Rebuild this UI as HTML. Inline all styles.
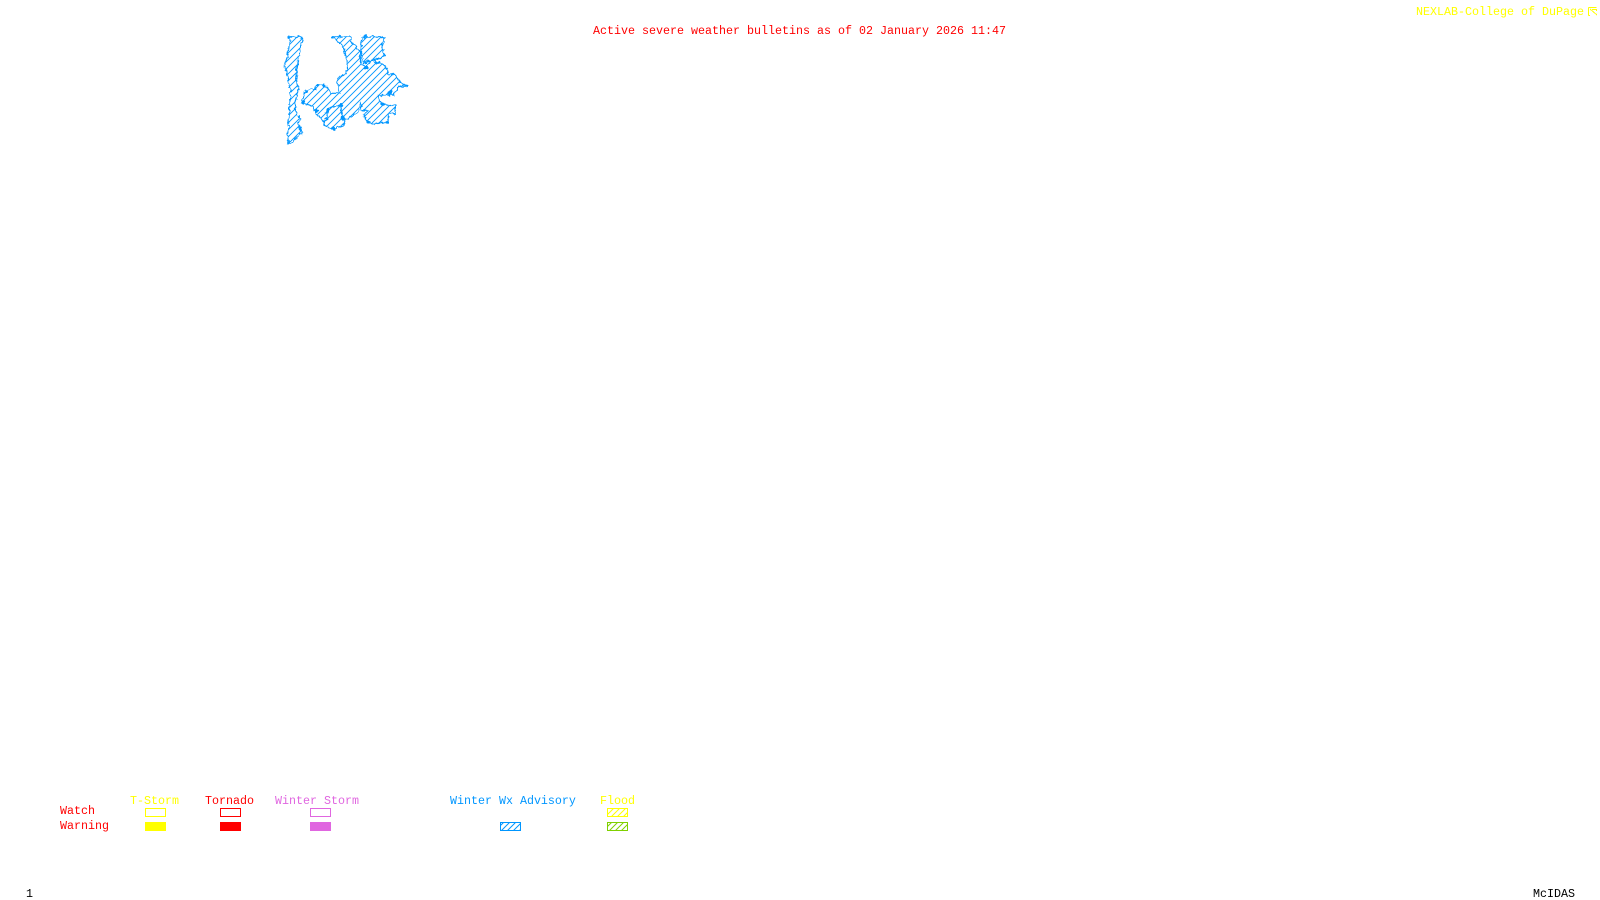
<!DOCTYPE html>
<html><head><meta charset="utf-8"><title>Active severe weather bulletins</title>
<style>
html,body{margin:0;padding:0;background:#fff;width:1600px;height:900px;overflow:hidden}
svg{display:block}
text{font-family:"Liberation Mono",monospace;font-size:11.67px;font-weight:400;white-space:pre}
</style></head><body>
<svg width="1600" height="900" viewBox="0 0 1600 900" xmlns="http://www.w3.org/2000/svg">
<defs>
<pattern id="hb" patternUnits="userSpaceOnUse" width="21" height="21"><path d="M-3 24L24 -3M-3 3L3 -3M18 24L24 18" stroke="#0096ff" stroke-width="2.8" fill="none"/></pattern>
<pattern id="hbs" patternUnits="userSpaceOnUse" width="6" height="6"><path d="M-1 7L7 -1M-1 1L1 -1M5 7L7 5" stroke="#0096ff" stroke-width="1" fill="none"/></pattern>
<pattern id="hy" patternUnits="userSpaceOnUse" width="6" height="6"><path d="M-1 7L7 -1M-1 1L1 -1M5 7L7 5" stroke="#ffff00" stroke-width="1" fill="none"/></pattern>
<pattern id="hg" patternUnits="userSpaceOnUse" width="6" height="6"><path d="M-1 7L7 -1M-1 1L1 -1M5 7L7 5" stroke="#7fd000" stroke-width="1" fill="none"/></pattern>
<filter id="jag" filterUnits="userSpaceOnUse" x="0" y="0" width="470" height="380">
<feTurbulence type="fractalNoise" baseFrequency="0.09" numOctaves="2" seed="4" result="n"/>
<feDisplacementMap in="SourceGraphic" in2="n" scale="14" xChannelSelector="R" yChannelSelector="G"/>
</filter>
<g id="area">
<polygon points="85,35 128,35 122,60 118,85 110,130 110,170 115,195 107,230 106,262 118,275 116,305 128,320 105,345 85,358 85,310 88,260 92,200 85,170 80,140 73,122 80,100 88,60 92,45"/>
<polygon points="215,35 268,35 280,60 300,75 302,115 315,125 335,105 375,120 385,150 400,145 420,170 440,183 415,185 400,210 375,210 355,210 360,232 385,240 408,240 405,265 385,265 385,290 345,297 320,290 310,270 325,258 305,255 302,230 295,260 275,275 255,285 250,300 220,312 195,305 188,285 165,262 160,245 125,232 135,200 165,190 170,180 195,180 215,205 240,205 230,160 245,152 260,145 262,110 250,65 230,48"/>
<polygon points="305,35 360,35 372,40 365,65 375,95 335,105 310,115 303,80"/>
</g>
</defs>
<rect width="1600" height="900" fill="#fff"/>

<g transform="translate(260,25) scale(0.33333)">
<use href="#area" fill="url(#hb)" stroke="none"/>
<g filter="url(#jag)" fill="none" stroke="#0096ff" stroke-width="3.6" stroke-linejoin="round">
<use href="#area"/>
<polyline points="195,265 205,250 240,240 245,265 255,285"/>
<polyline points="205,250 200,280 190,295"/>
<g fill="#0096ff" stroke="none">
<circle cx="390" cy="203" r="6"/>
<circle cx="245" cy="240" r="6"/>
<circle cx="220" cy="310" r="6"/>
<circle cx="170" cy="258" r="6"/>
<circle cx="130" cy="232" r="4"/>
<circle cx="172" cy="181" r="4"/>
<circle cx="192" cy="181" r="4"/>
<circle cx="318" cy="128" r="6"/>
<circle cx="398" cy="148" r="4"/>
<circle cx="365" cy="237" r="4"/>
<circle cx="248" cy="278" r="6"/>
</g>
</g>
</g>

<text x="593" y="34" fill="#ff0000" textLength="413" lengthAdjust="spacing">Active severe weather bulletins as of 02 January 2026 11:47</text>
<text x="1416" y="15" fill="#ffff00" textLength="168" lengthAdjust="spacing">NEXLAB-College of DuPage</text>
<g fill="none" stroke="#ffff00" stroke-width="1" shape-rendering="crispEdges">
<path d="M1588.5 7.5H1596.5M1588.5 7.5V15.5M1588.5 15.5H1590M1590 9L1597 15M1592 9.5H1596.5V11"/>
</g>

<text x="130" y="804" fill="#ffff00">T-Storm</text>
<text x="205" y="804" fill="#ff0000">Tornado</text>
<text x="275" y="804" fill="#e066e0">Winter Storm</text>
<text x="450" y="804" fill="#0096ff">Winter Wx Advisory</text>
<text x="600" y="804" fill="#ffff00">Flood</text>
<text x="60" y="814" fill="#ff0000">Watch</text>
<text x="60" y="829" fill="#ff0000">Warning</text>

<g shape-rendering="crispEdges" stroke-width="1">
<rect x="145.5" y="808.5" width="20" height="8" fill="none" stroke="#ffff00"/>
<rect x="145" y="822" width="21" height="9" fill="#ffff00"/>
<rect x="220.5" y="808.5" width="20" height="8" fill="none" stroke="#ff0000"/>
<rect x="220" y="822" width="21" height="9" fill="#ff0000"/>
<rect x="310.5" y="808.5" width="20" height="8" fill="none" stroke="#e066e0"/>
<rect x="310" y="822" width="21" height="9" fill="#e066e0"/>
<rect x="500.5" y="822.5" width="20" height="8" fill="url(#hbs)" stroke="#0096ff"/>
<rect x="607.5" y="808.5" width="20" height="8" fill="url(#hy)" stroke="#ffff00"/>
<rect x="607.5" y="822.5" width="20" height="8" fill="url(#hg)" stroke="#7fd000"/>
</g>

<text x="26" y="897" fill="#000">1</text>
<text x="1533" y="897" fill="#000">McIDAS</text>
</svg>
</body></html>
